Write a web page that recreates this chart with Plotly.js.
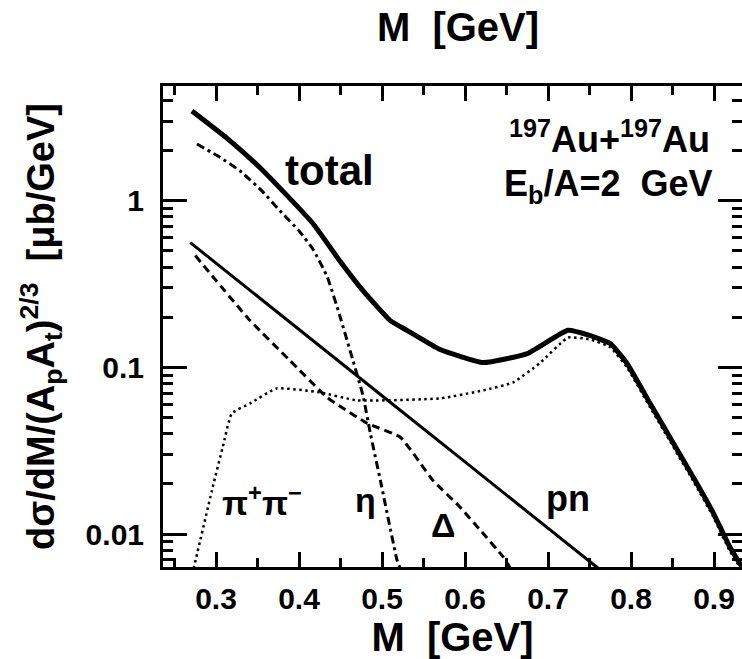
<!DOCTYPE html>
<html>
<head>
<meta charset="utf-8">
<script src="https://cdn.plot.ly/plotly-3.0.1.min.js"></script>
<style>
html,body{margin:0;padding:0;background:#fff;}
#chart{width:742px;height:659px;}
</style>
</head>
<body>
<div id="chart"></div>
<script>
// ---- data (M in GeV, cross section in μb/GeV) ----
const totalM = [0.271, 0.313, 0.353, 0.386, 0.417, 0.449, 0.477, 0.510, 0.530, 0.570, 0.622, 0.675, 0.724, 0.751, 0.775, 0.795, 0.823, 0.851, 0.875, 0.899, 0.919, 0.935];
const totalY = [3.46, 2.38, 1.58, 1.07, 0.728, 0.437, 0.289, 0.191, 0.167, 0.128, 0.107, 0.121, 0.167, 0.155, 0.139, 0.106, 0.0608, 0.0351, 0.0219, 0.0134, 0.00836, 0.0062];

const pipiM = [0.273, 0.296, 0.308, 0.319, 0.341, 0.373, 0.425, 0.470, 0.570, 0.622, 0.658, 0.690, 0.724, 0.751, 0.775, 0.795, 0.823, 0.851, 0.875, 0.899, 0.919, 0.935];
const pipiY = [0.0062, 0.0191, 0.0332, 0.053, 0.0608, 0.0748, 0.0708, 0.0634, 0.0652, 0.0728, 0.0813, 0.106, 0.151, 0.147, 0.132, 0.100, 0.0575, 0.0333, 0.0208, 0.0127, 0.0079, 0.0059];

const etaM = [0.277, 0.305, 0.329, 0.355, 0.377, 0.400, 0.417, 0.434, 0.449, 0.465, 0.477, 0.486, 0.498, 0.518, 0.522];
const etaY = [2.19, 1.82, 1.51, 1.15, 0.871, 0.66, 0.51, 0.35, 0.205, 0.110, 0.068, 0.040, 0.021, 0.0070, 0.0062];

const deltaM = [0.275, 0.341, 0.389, 0.434, 0.482, 0.522, 0.561, 0.594, 0.618, 0.646, 0.655];
const deltaY = [0.469, 0.191, 0.110, 0.066, 0.0462, 0.0381, 0.0211, 0.0145, 0.0106, 0.00728, 0.0062];

const pnM = [0.269, 0.3, 0.4, 0.5, 0.6, 0.7, 0.76];
const pnY = [0.561, 0.423, 0.169, 0.0676, 0.0271, 0.0108, 0.00625];

const xTickVals = [0.3, 0.4, 0.5, 0.6, 0.7, 0.8, 0.9];
const xTickText = ['0.3', '0.4', '0.5', '0.6', '0.7', '0.8', '0.9'];
const xMinorVals = [0.25, 0.35, 0.45, 0.55, 0.65, 0.75, 0.85];
const yTickVals = [0.01, 0.1, 1];
const yTickText = ['0.01', '0.1', '1'];
const yMinorVals = [0.007, 0.008, 0.009, 0.02, 0.03, 0.04, 0.05, 0.06, 0.07, 0.08, 0.09,
                    0.2, 0.3, 0.4, 0.5, 0.6, 0.7, 0.8, 0.9, 2, 3, 4];

const FONT = 'Liberation Sans, Arial, Helvetica, sans-serif';

const traces = [
  {x: pipiM, y: pipiY, mode: 'lines', line: {color: '#000', width: 2.5, dash: '2.5px,3.5px', shape: 'spline', smoothing: 0.4}, name: 'ππ'},
  {x: etaM, y: etaY, mode: 'lines', line: {color: '#000', width: 3, dash: '8px,4px,3px,4px', shape: 'spline', smoothing: 0.4}, name: 'η'},
  {x: deltaM, y: deltaY, mode: 'lines', line: {color: '#000', width: 3, dash: '8px,5px', shape: 'spline', smoothing: 0.4}, name: 'Δ'},
  {x: pnM, y: pnY, mode: 'lines', line: {color: '#000', width: 3}, name: 'pn'},
  {x: totalM, y: totalY, mode: 'lines', line: {color: '#000', width: 5, shape: 'spline', smoothing: 0.4}, name: 'total'}
];

function ann(text, x, y, size) {
  return {text: text, x: x, y: y, xref: 'paper', yref: 'paper', xanchor: 'center', yanchor: 'middle',
          showarrow: false, font: {family: FONT, size: size, color: '#000', weight: 'bold'}};
}

const layout = {
  width: 742, height: 659,
  margin: {l: 163, r: 0, t: 86, b: 92},
  paper_bgcolor: '#fff', plot_bgcolor: '#fff',
  showlegend: false,
  font: {family: FONT, color: '#000', weight: 'bold'},
  title: {text: 'M  [GeV]', x: 458 / 742, xref: 'container', xanchor: 'center',
          y: 1 - 27 / 659, yref: 'container', yanchor: 'middle',
          font: {family: FONT, size: 40, color: '#000', weight: 'bold'}},
  xaxis: {
    range: [0.2361, 0.9337], showgrid: false, zeroline: false,
    showline: true, linecolor: '#000', linewidth: 3, mirror: 'ticks',
    tickmode: 'array', tickvals: xTickVals, ticktext: xTickText,
    ticks: 'inside', ticklen: 15, tickwidth: 3, tickcolor: '#000',
    ticklabelstandoff: 3,
    tickfont: {family: FONT, size: 30, color: '#000', weight: 'bold'},
    minor: {tickmode: 'array', tickvals: xMinorVals, ticks: 'inside', ticklen: 9, tickwidth: 3, tickcolor: '#000', showgrid: false},
    title: {text: 'M  [GeV]', standoff: 12, font: {family: FONT, size: 40, color: '#000', weight: 'bold'}}
  },
  yaxis: {
    type: 'log', range: [-2.198, 0.689], showgrid: false, zeroline: false,
    showline: true, linecolor: '#000', linewidth: 3, mirror: 'ticks',
    tickmode: 'array', tickvals: yTickVals, ticktext: yTickText,
    ticks: 'inside', ticklen: 24, tickwidth: 3, tickcolor: '#000',
    ticklabelstandoff: 10,
    tickfont: {family: FONT, size: 30, color: '#000', weight: 'bold'},
    minor: {tickmode: 'array', tickvals: yMinorVals, ticks: 'inside', ticklen: 10, tickwidth: 3, tickcolor: '#000', showgrid: false},
    title: {text: 'dσ/dM/(A<sub>p</sub>A<sub>t</sub>)<sup>2/3</sup>  [μb/GeV]', standoff: 20,
            font: {family: FONT, size: 38, color: '#000', weight: 'bold'}}
  },
  annotations: [
    ann('total', 0.2884, 0.824, 42),
    ann('<sup>197</sup>Au+<sup>197</sup>Au', 0.772, 0.894, 36),
    ann('E<sub>b</sub>/A=2  GeV', 0.7686, 0.7925, 36),
    ann('π<sup>+</sup>π<sup>−</sup>', 0.171, 0.139, 34),
    ann('η', 0.3506, 0.139, 34),
    ann('Δ', 0.4836, 0.087, 34),
    ann('pn', 0.6995, 0.143, 36)
  ]
};

Plotly.newPlot('chart', traces, layout, {staticPlot: true, displayModeBar: false});
</script>
</body>
</html>
